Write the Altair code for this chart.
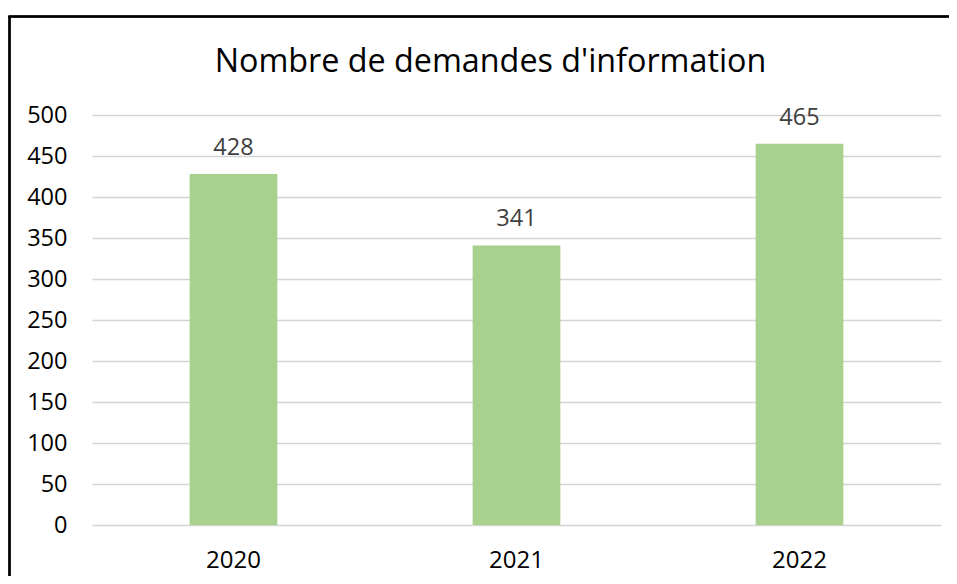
import altair as alt
import pandas as pd

years = ["2020", "2021", "2022"]
values = [428, 341, 465]
y_ticks = [0, 50, 100, 150, 200, 250, 300, 350, 400, 450, 500]
title_text = "Nombre de demandes d'information"

df = pd.DataFrame({"annee": years, "demandes": values})
title_df = pd.DataFrame({"titre": [title_text]})

FONT = "Open Sans"
W, H = 849, 410

base = alt.Chart(df)

bars = base.mark_bar(color="#A9D18E").encode(
    x=alt.X("annee:N", sort=years,
            scale=alt.Scale(paddingInner=0.69, paddingOuter=0.345),
            axis=alt.Axis(title=None, labelAngle=0, domain=False, ticks=False,
                          labelPadding=23, labelFont=FONT, labelFontSize=24,
                          labelColor="#000000")),
    y=alt.Y("demandes:Q", scale=alt.Scale(domain=[0, 500], nice=False),
            axis=alt.Axis(title=None, values=y_ticks, domain=False, ticks=False,
                          labelPadding=25, labelFont=FONT, labelFontSize=23.5,
                          labelColor="#000000", gridColor="#D4D4D4",
                          gridWidth=1.5)),
)

labels = base.mark_text(font=FONT, fontSize=23.5, color="#404040",
                        baseline="alphabetic", dy=-19).encode(
    x=alt.X("annee:N", sort=years),
    y="demandes:Q",
    text="demandes:Q",
)

title_mark = alt.Chart(title_df).mark_text(
    font=FONT, fontSize=32.3, color="#000000", baseline="alphabetic", align="center"
).encode(
    x=alt.value(W / 2 - 26), y=alt.value(-43), text="titre:N"
)

border_left = alt.Chart(df).mark_rule(color="#000000", strokeWidth=2).encode(
    x=alt.value(-82.5), y=alt.value(-99), y2=alt.value(H + 60)
)
border_top = alt.Chart(df).mark_rule(color="#000000", strokeWidth=2).encode(
    x=alt.value(-83.5), x2=alt.value(W + 20), y=alt.value(-98.5)
)

chart = alt.layer(bars, labels, title_mark, border_left, border_top).properties(
    width=W, height=H,
    background="#FFFFFF",
    padding={"left": 84, "top": 107, "right": 8, "bottom": 51},
    autosize=alt.AutoSizeParams(type="none"),
).configure_view(strokeWidth=0, stroke="transparent")

chart.save("out.html", embed_options={"renderer": "svg", "actions": False})
